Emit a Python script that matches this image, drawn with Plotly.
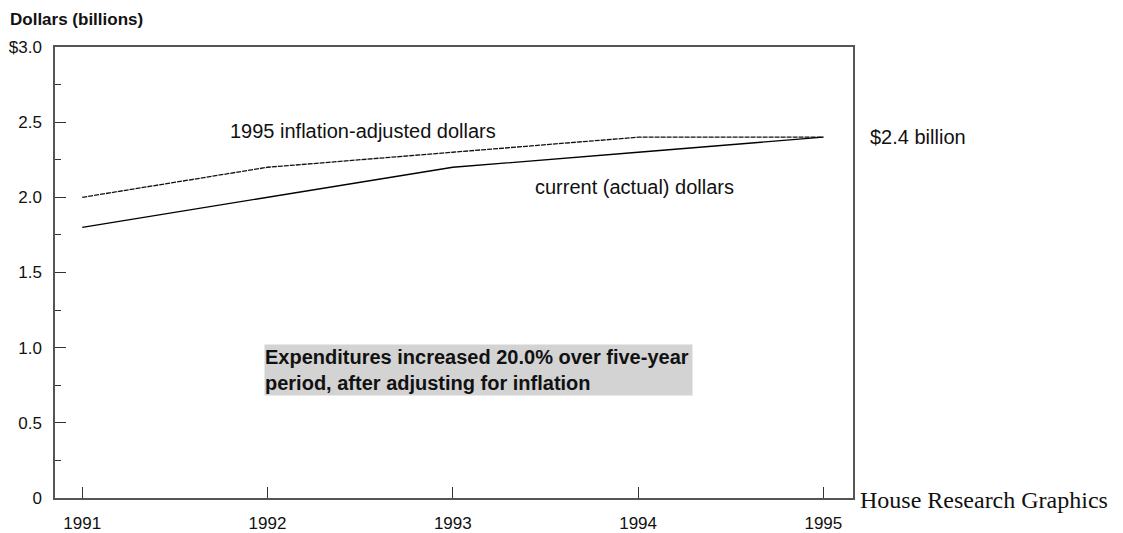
import plotly.graph_objects as go

# Expenditures, dollars in billions
years = [1991, 1992, 1993, 1994, 1995]
inflation_adjusted = [2.0, 2.2, 2.3, 2.4, 2.4]
current_dollars = [1.8, 2.0, 2.2, 2.3, 2.4]

y_tick_vals = [0, 0.5, 1.0, 1.5, 2.0, 2.5, 3.0]
y_tick_text = ["0", "0.5", "1.0", "1.5", "2.0", "2.5", "$3.0"]

FONT = "Liberation Sans, Arial, sans-serif"
SERIF = "Liberation Serif, Times New Roman, serif"
AXIS_COLOR = "#555555"
TEXT_COLOR = "#111111"

W, H = 1123, 533
L, R, T, B = 55, 270, 47, 35

fig = go.Figure()

fig.add_trace(go.Scatter(
    x=years, y=inflation_adjusted, mode="lines",
    line=dict(color="#111111", width=1.3, dash="5px,1px"),
    showlegend=False, hoverinfo="skip",
))
fig.add_trace(go.Scatter(
    x=years, y=current_dollars, mode="lines",
    line=dict(color="#000000", width=1.3),
    showlegend=False, hoverinfo="skip",
))

fig.update_layout(
    width=W, height=H,
    margin=dict(l=L, r=R, t=T, b=B),
    paper_bgcolor="white", plot_bgcolor="white",
    font=dict(family=FONT, size=17, color=TEXT_COLOR),
    xaxis=dict(
        range=[1990.853, 1995.16],
        tickvals=years, ticktext=[str(y) for y in years],
        ticks="inside", ticklen=11, tickcolor="#333333", tickwidth=1,
        showline=True, linecolor=AXIS_COLOR, linewidth=1.5, mirror=True,
        showgrid=False, zeroline=False, automargin=False,
        ticklabelstandoff=9,
        tickfont=dict(family=FONT, size=17, color=TEXT_COLOR),
    ),
    yaxis=dict(
        range=[0, 3.0],
        tickvals=y_tick_vals, ticktext=y_tick_text,
        ticks="inside", ticklen=11, tickcolor="#333333", tickwidth=1,
        minor=dict(dtick=0.25, ticks="inside", ticklen=6,
                   tickcolor="#333333", tickwidth=1, showgrid=False),
        showline=True, linecolor=AXIS_COLOR, linewidth=1.5, mirror=True,
        showgrid=False, zeroline=False, automargin=False,
        ticklabelstandoff=8,
        tickfont=dict(family=FONT, size=17, color=TEXT_COLOR),
    ),
)


def px_to_paper(px, py):
    """Convert a page pixel position into plot-area paper coordinates."""
    return (px - L) / (W - L - R), (H - B - py) / (H - T - B)


labels = [
    ("<b>Dollars (billions)</b>", 8, 19, FONT, 17),
    ("1995 inflation-adjusted dollars", 228, 131, FONT, 20),
    ("current (actual) dollars", 533, 187, FONT, 20),
    ("$2.4 billion", 868, 137, FONT, 20),
    ("House Research Graphics", 858, 500, SERIF, 24),
]

for text, px, py, family, size in labels:
    xp, yp = px_to_paper(px, py)
    fig.add_annotation(
        text=text, x=xp, y=yp, xref="paper", yref="paper",
        xanchor="left", yanchor="middle", showarrow=False, align="left",
        font=dict(family=family, size=size, color=TEXT_COLOR),
    )

# Shaded note box
bx, by = px_to_paper(264, 370)
fig.add_annotation(
    text="<b>Expenditures increased 20.0% over five-year<br>"
         "period, after adjusting for inflation</b>",
    x=bx, y=by, xref="paper", yref="paper",
    xanchor="left", yanchor="middle", showarrow=False, align="left",
    bgcolor="#d3d3d3", width=427, height=50, borderpad=0,
    font=dict(family=FONT, size=20, color=TEXT_COLOR),
)

fig.write_html("out.html")
